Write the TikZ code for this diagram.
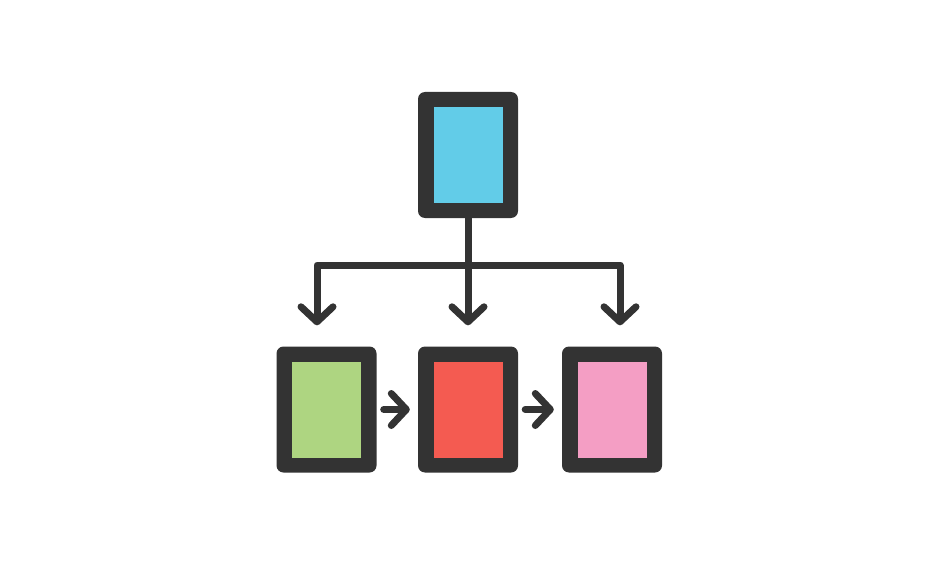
\documentclass[tikz,border=0pt]{standalone}
\usetikzlibrary{arrows.meta}
\definecolor{dark}{HTML}{333333}
\definecolor{cblue}{HTML}{62CCE8}
\definecolor{cgreen}{HTML}{AED581}
\definecolor{cred}{HTML}{F45B51}
\definecolor{cpink}{HTML}{F49EC4}
\begin{document}
\begin{tikzpicture}[x=1pt,y=-1pt,
  frame/.style={fill=dark, rounded corners=7pt, minimum width=100pt, minimum height=126pt, inner sep=0pt},
  panel/.style={minimum width=69pt, minimum height=96pt, inner sep=0pt},
  conn/.style={draw=dark, line width=7pt, line cap=round, line join=round},
  tip/.style={-{Straight Barb[length=15pt, width=32pt, line width=7pt, round]}}]
\useasboundingbox (0,0) rectangle (940,567);
\node[frame] (top) at (468,155) {};
\node[panel, fill=cblue] (topin) at (top.center) {};
\node[frame] (g) at (326.5,409.5) {};
\node[panel, fill=cgreen] (gin) at (g.center) {};
\node[frame] (r) at (468,409.5) {};
\node[panel, fill=cred] (rin) at (r.center) {};
\node[frame] (p) at (612,409.5) {};
\node[panel, fill=cpink] (pin) at (p.center) {};
\coordinate (split) at (468,265);
\coordinate (gt) at ([xshift=-9.5pt]g.north);
\coordinate (pt) at ([xshift=8pt]p.north);
\draw[conn, tip, shorten >=21pt] (top.south) -- (r.north);
\draw[conn, tip, shorten >=21pt] (split) -| (gt);
\draw[conn, tip, shorten >=21pt] (split) -| (pt);
\draw[conn, tip, shorten <=7pt, shorten >=8pt] (g.east) -- (r.west);
\draw[conn, tip, shorten <=7pt, shorten >=8pt] (r.east) -- (p.west);
\end{tikzpicture}
\end{document}
